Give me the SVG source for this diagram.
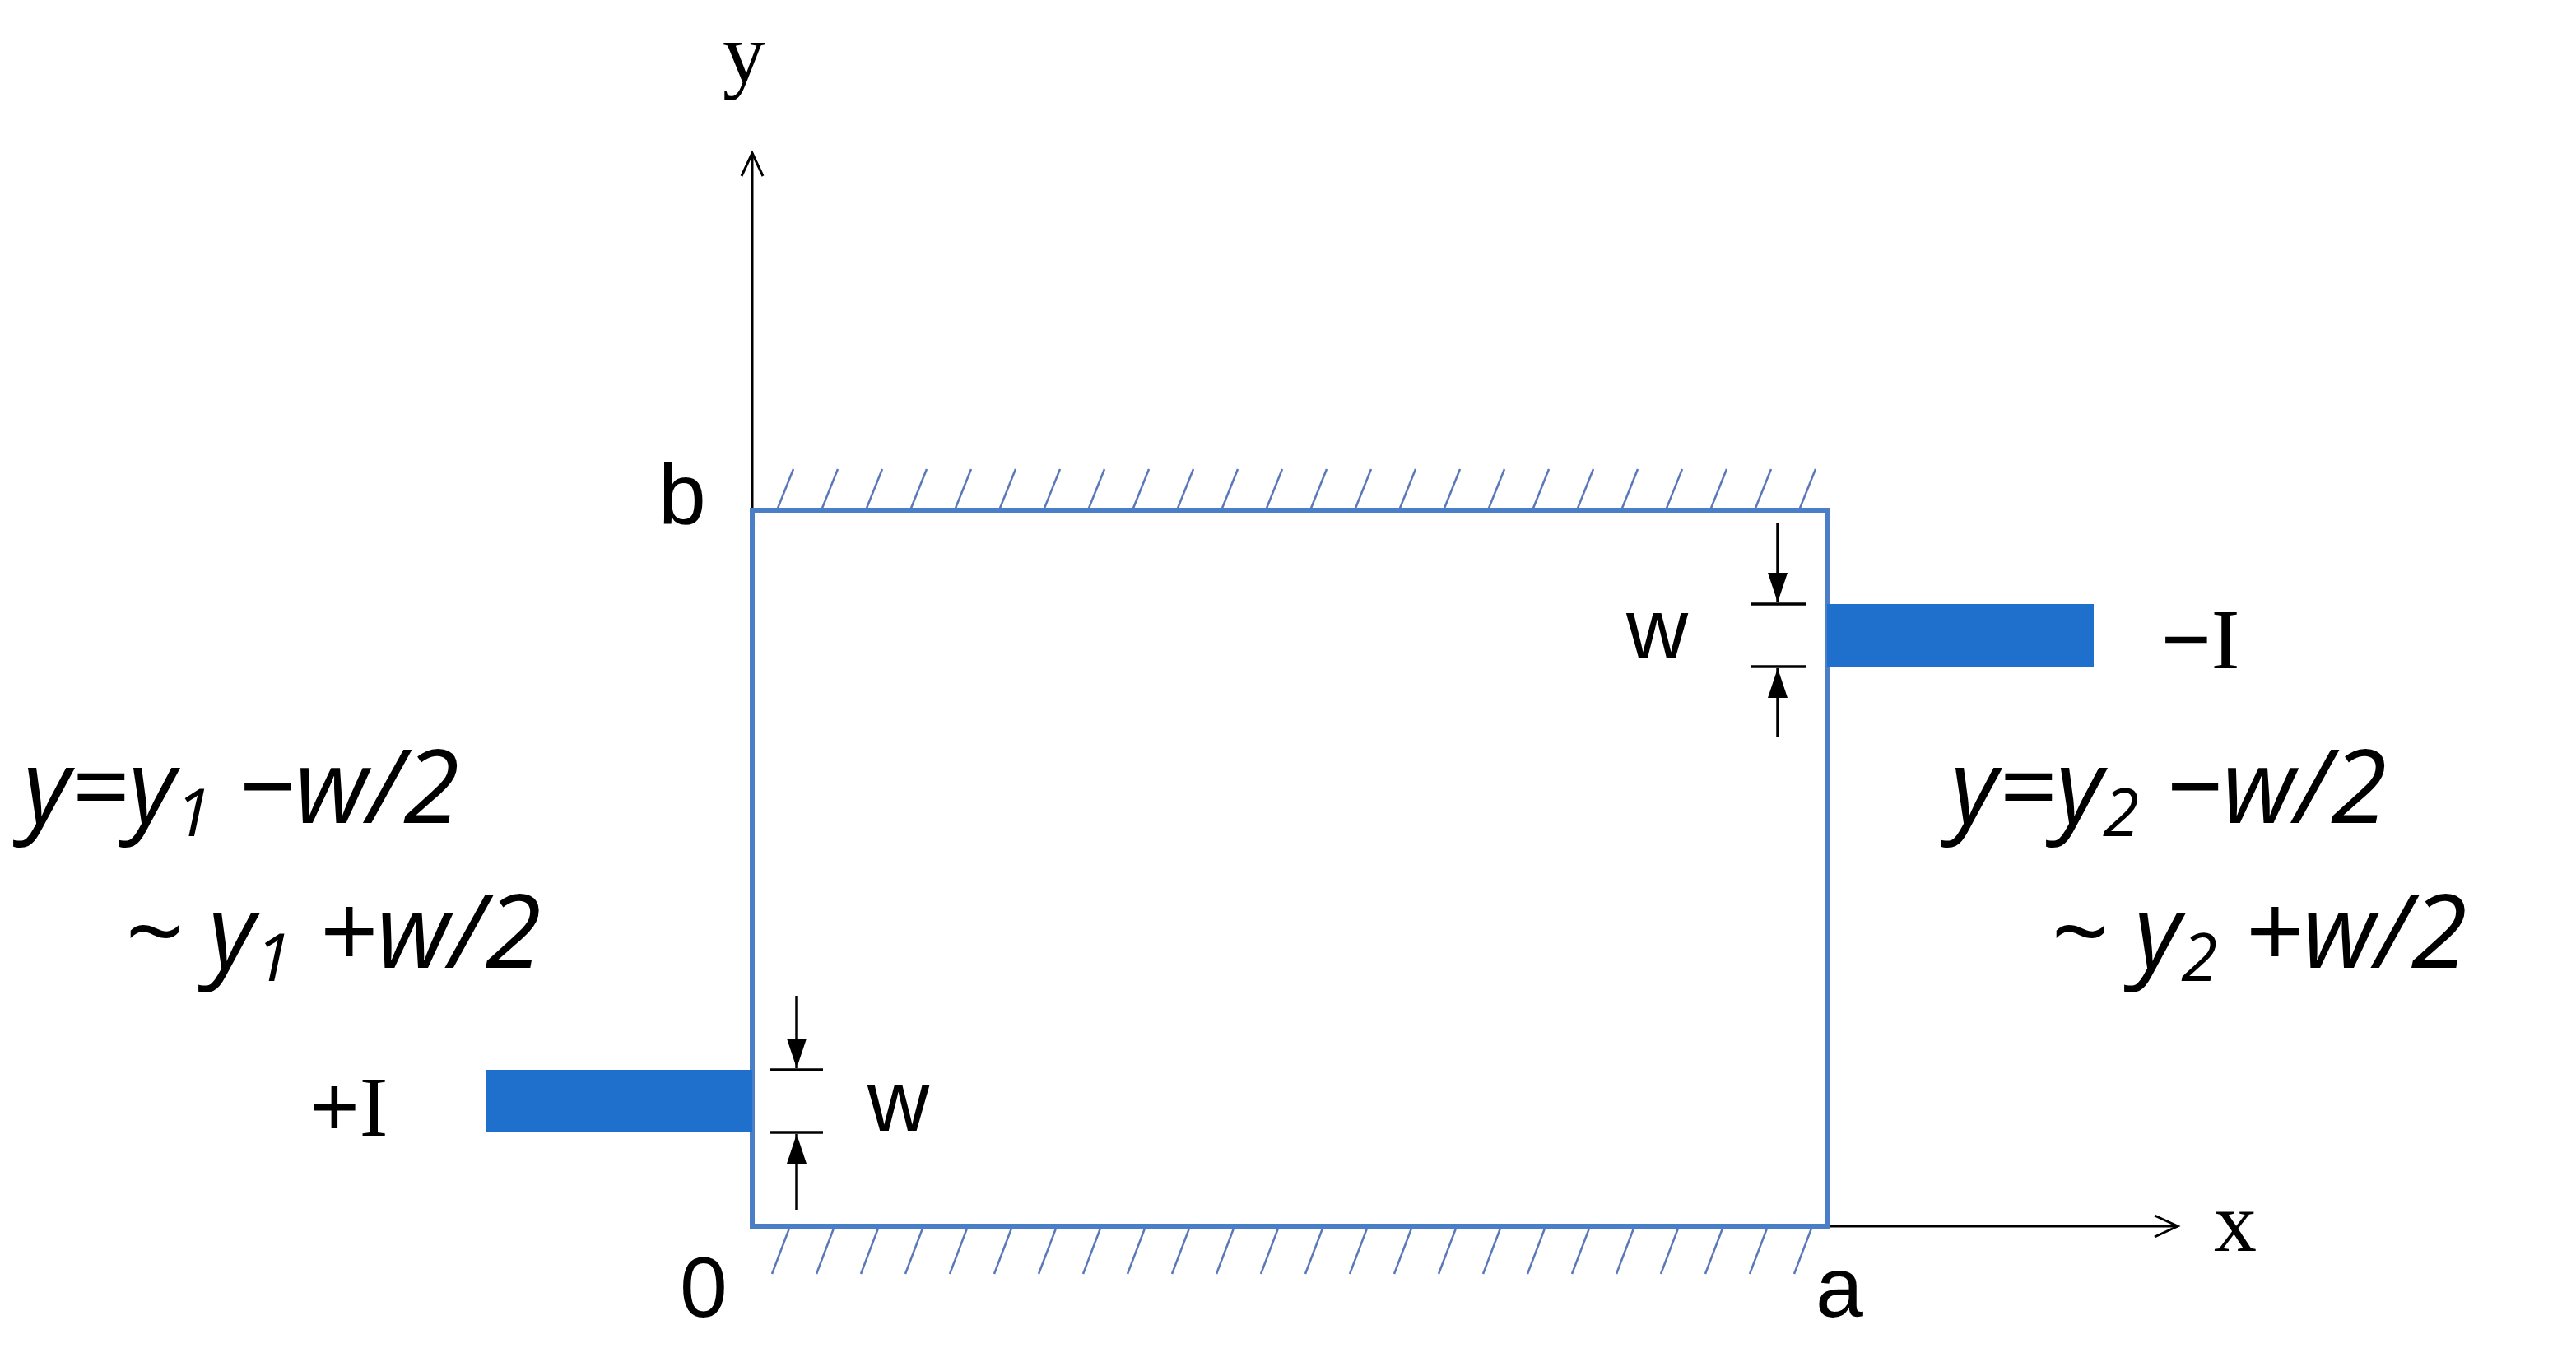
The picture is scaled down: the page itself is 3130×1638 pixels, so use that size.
<svg xmlns="http://www.w3.org/2000/svg" width="3130" height="1638" viewBox="0 0 3130 1638">
<style>
.lbl{font-family:"Liberation Sans",Arial,sans-serif;font-size:104px;fill:#000}
.ser{font-family:"Liberation Serif","Times New Roman",serif}
.frm{font-family:"Open Sans","Liberation Sans",sans-serif;font-style:italic;font-size:124px;fill:#000}
.ax{stroke:#000;stroke-width:3;fill:none}
.el{fill:#1f6fcc}
</style>
<defs>
<marker id="open" markerWidth="40" markerHeight="40" refX="30" refY="15" orient="auto" markerUnits="userSpaceOnUse"><path d="M2,2 L30,15 L2,28" fill="none" stroke="#000" stroke-width="3"/></marker>
<marker id="solid" markerWidth="40" markerHeight="40" refX="36" refY="12" orient="auto" markerUnits="userSpaceOnUse"><path d="M0,0 L36,12 L0,24 Z" fill="#000"/></marker>
</defs>
<g id="connectors">
<line class="ax" x1="914" y1="1490" x2="914" y2="186" marker-end="url(#open)"/>
<line class="ax" x1="914" y1="1490" x2="2646" y2="1490" marker-end="url(#open)"/>
<line x1="968" y1="1210" x2="968" y2="1298" stroke="#000" stroke-width="3.5" marker-end="url(#solid)"/>
<line x1="968" y1="1470" x2="968" y2="1378" stroke="#000" stroke-width="3.5" marker-end="url(#solid)"/>
<line x1="2160" y1="636" x2="2160" y2="732" stroke="#000" stroke-width="3.5" marker-end="url(#solid)"/>
<line x1="2160" y1="896" x2="2160" y2="812" stroke="#000" stroke-width="3.5" marker-end="url(#solid)"/>
<line x1="936" y1="1300" x2="1000" y2="1300" stroke="#000" stroke-width="3.5"/>
<line x1="936" y1="1376" x2="1000" y2="1376" stroke="#000" stroke-width="3.5"/>
<line x1="2128" y1="734" x2="2194" y2="734" stroke="#000" stroke-width="3.5"/>
<line x1="2128" y1="810" x2="2194" y2="810" stroke="#000" stroke-width="3.5"/>
</g>
<g id="hatching">
<g stroke="#5a78b8" stroke-width="2.5">
<line x1="944" y1="620" x2="964" y2="570"/><line x1="998" y1="620" x2="1018" y2="570"/><line x1="1052" y1="620" x2="1072" y2="570"/><line x1="1106" y1="620" x2="1126" y2="570"/><line x1="1160" y1="620" x2="1180" y2="570"/><line x1="1214" y1="620" x2="1234" y2="570"/><line x1="1268" y1="620" x2="1288" y2="570"/><line x1="1322" y1="620" x2="1342" y2="570"/><line x1="1376" y1="620" x2="1396" y2="570"/><line x1="1430" y1="620" x2="1450" y2="570"/><line x1="1484" y1="620" x2="1504" y2="570"/><line x1="1538" y1="620" x2="1558" y2="570"/><line x1="1592" y1="620" x2="1612" y2="570"/><line x1="1646" y1="620" x2="1666" y2="570"/><line x1="1700" y1="620" x2="1720" y2="570"/><line x1="1754" y1="620" x2="1774" y2="570"/><line x1="1808" y1="620" x2="1828" y2="570"/><line x1="1862" y1="620" x2="1882" y2="570"/><line x1="1916" y1="620" x2="1936" y2="570"/><line x1="1970" y1="620" x2="1990" y2="570"/><line x1="2024" y1="620" x2="2044" y2="570"/><line x1="2078" y1="620" x2="2098" y2="570"/><line x1="2132" y1="620" x2="2152" y2="570"/><line x1="2186" y1="620" x2="2206" y2="570"/>
<line x1="960" y1="1490" x2="938" y2="1548"/><line x1="1014" y1="1490" x2="992" y2="1548"/><line x1="1068" y1="1490" x2="1046" y2="1548"/><line x1="1122" y1="1490" x2="1100" y2="1548"/><line x1="1176" y1="1490" x2="1154" y2="1548"/><line x1="1230" y1="1490" x2="1208" y2="1548"/><line x1="1284" y1="1490" x2="1262" y2="1548"/><line x1="1338" y1="1490" x2="1316" y2="1548"/><line x1="1392" y1="1490" x2="1370" y2="1548"/><line x1="1446" y1="1490" x2="1424" y2="1548"/><line x1="1500" y1="1490" x2="1478" y2="1548"/><line x1="1554" y1="1490" x2="1532" y2="1548"/><line x1="1608" y1="1490" x2="1586" y2="1548"/><line x1="1662" y1="1490" x2="1640" y2="1548"/><line x1="1716" y1="1490" x2="1694" y2="1548"/><line x1="1770" y1="1490" x2="1748" y2="1548"/><line x1="1824" y1="1490" x2="1802" y2="1548"/><line x1="1878" y1="1490" x2="1856" y2="1548"/><line x1="1932" y1="1490" x2="1910" y2="1548"/><line x1="1986" y1="1490" x2="1964" y2="1548"/><line x1="2040" y1="1490" x2="2018" y2="1548"/><line x1="2094" y1="1490" x2="2072" y2="1548"/><line x1="2148" y1="1490" x2="2126" y2="1548"/><line x1="2202" y1="1490" x2="2180" y2="1548"/>
</g>
</g>
<g id="plate"><rect x="914" y="620" width="1306" height="870" fill="none" stroke="#4a7fc8" stroke-width="6"/></g>
<g id="electrode-left"><rect class="el" x="590" y="1300" width="324" height="76"/></g>
<g id="electrode-right"><rect class="el" x="2220" y="734" width="324" height="76"/></g>
<g id="labels">
<text class="lbl ser" x="878" y="100" font-size="136">y</text>
<text class="lbl" x="800" y="636">b</text>
<text class="lbl" x="826" y="1600">0</text>
<text class="lbl" x="2206" y="1600">a</text>
<text class="lbl ser" x="2690" y="1520" font-size="136">x</text>
<text class="lbl" x="376" y="1380" font-size="120">+<tspan class="ser">I</tspan></text>
<text class="lbl" x="2626" y="812" font-size="120">−<tspan class="ser">I</tspan></text>
<text class="lbl" x="1054" y="1374">w</text>
<text class="lbl" x="1976" y="800">w</text>
<text class="frm" x="28" y="1000">y=y<tspan font-size="80" dy="16">1</tspan><tspan dy="-16"> −w/2</tspan></text>
<text class="frm" x="150" y="1176">~ y<tspan font-size="80" dy="16">1</tspan><tspan dy="-16"> +w/2</tspan></text>
<text class="frm" x="2370" y="1000">y=y<tspan font-size="80" dy="16">2</tspan><tspan dy="-16"> −w/2</tspan></text>
<text class="frm" x="2490" y="1176">~ y<tspan font-size="80" dy="16">2</tspan><tspan dy="-16"> +w/2</tspan></text>
</g>
</svg>
